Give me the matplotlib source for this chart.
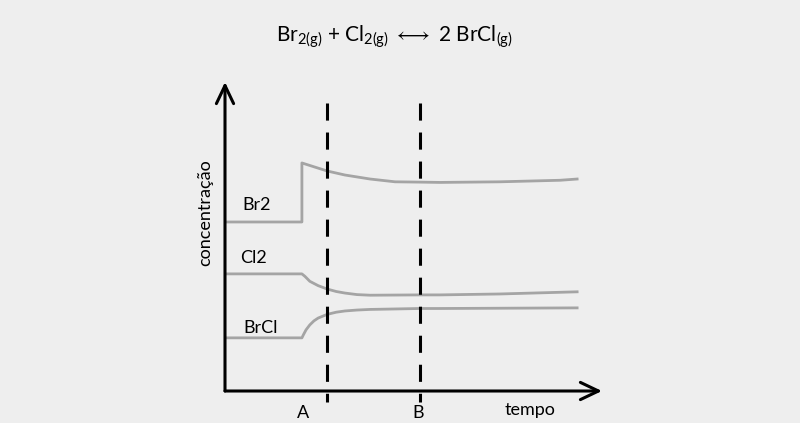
import matplotlib
matplotlib.use('Agg')
import matplotlib.pyplot as plt

plt.rcParams['font.family'] = ['Lato', 'DejaVu Sans']
plt.rcParams['mathtext.fontset'] = 'custom'
plt.rcParams['mathtext.rm'] = 'Lato'
plt.rcParams['mathtext.it'] = 'Lato'
plt.rcParams['mathtext.fallback'] = 'stixsans'

# curves (time, concentration in arbitrary units 0..10)
br2_t = [0, 2.04, 2.04, 2.71, 3.18, 3.85, 4.51, 5.17, 5.70, 7.29, 8.89, 9.34]
br2_c = [5.47, 5.47, 7.38, 7.12, 6.99, 6.86, 6.77, 6.76, 6.75, 6.77, 6.82, 6.86]

cl2_t = [0, 2.04, 2.12, 2.25, 2.47, 2.71, 2.95, 3.18, 3.50, 3.85, 5.17, 5.70, 7.29, 9.34]
cl2_c = [3.79, 3.79, 3.71, 3.55, 3.41, 3.30, 3.22, 3.17, 3.12, 3.10, 3.11, 3.11, 3.14, 3.21]

brcl_t = [0, 2.04, 2.08, 2.15, 2.25, 2.36, 2.47, 2.71, 2.95, 3.18, 3.50, 3.85, 5.17, 5.70, 9.34]
brcl_c = [1.72, 1.72, 1.82, 1.98, 2.14, 2.27, 2.36, 2.48, 2.55, 2.59, 2.62, 2.64, 2.67, 2.67, 2.69]

marks_t = [2.71, 5.17]      # dashed lines
marks_lbl = ['A', 'B']
marks_lbl_t = [2.07, 5.12]

curve_lbl = ['Br2', 'Cl2', 'BrCl']
curve_lbl_t = [0.45, 0.40, 0.48]
curve_lbl_c = [6.02, 4.30, 2.04]

bg = '#eeeeee'
grey = '#a4a4a4'

fig = plt.figure(figsize=(8, 4.23), dpi=100, facecolor=bg)
ax = fig.add_axes([225/800, 32/423, 377/800, 309/423])
ax.set_facecolor(bg)
ax.set_xlim(0, 10)
ax.set_ylim(0, 10)
for s in ax.spines.values():
    s.set_visible(False)
ax.set_xticks([])
ax.set_yticks([])

ax.plot(br2_t, br2_c, color=grey, lw=2.0)
ax.plot(cl2_t, cl2_c, color=grey, lw=2.0)
ax.plot(brcl_t, brcl_c, color=grey, lw=2.0)

for t in marks_t:
    ax.plot([t, t], [9.32, -0.36], color='black', lw=2.2, dashes=(5.6, 3.9),
            clip_on=False)

# axes with open arrow heads
arr = dict(arrowstyle='->,head_length=1.3,head_width=0.62', lw=2.2,
           color='black', shrinkA=0, shrinkB=0)
ax.annotate('', xy=(1, 0), xytext=(0, 0), xycoords='axes fraction',
            arrowprops=arr)
ax.annotate('', xy=(0, 1), xytext=(0, 0), xycoords='axes fraction',
            arrowprops=arr)

for lbl, t, c in zip(curve_lbl, curve_lbl_t, curve_lbl_c):
    ax.text(t, c, lbl, fontsize=13, ha='left', va='center')

for lbl, t in zip(marks_lbl, marks_lbl_t):
    ax.text(t, -0.71, lbl, fontsize=13, ha='center', va='center', clip_on=False)

ax.text(8.09, -0.61, 'tempo', fontsize=13, ha='center', va='center')
ax.text(-0.53, 5.76, 'concentração', fontsize=13, rotation=90,
        ha='center', va='center')

fig.text(394/800, 1 - 37/423,
         r'Br$_\mathrm{2(g)}$ + Cl$_\mathrm{2(g)}$ $\longleftrightarrow$ 2 BrCl$_\mathrm{(g)}$',
         fontsize=15, ha='center', va='center')

fig.savefig('out.png', dpi=100, facecolor=bg)
